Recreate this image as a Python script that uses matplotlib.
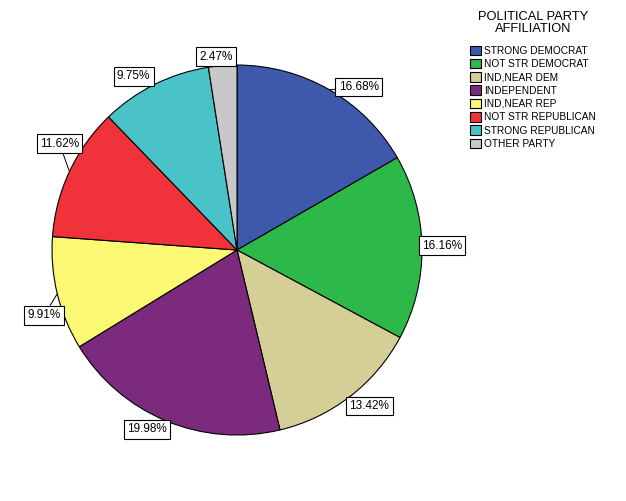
import matplotlib.pyplot as plt
import numpy as np

plt.rcParams['font.family'] = ['Liberation Sans', 'DejaVu Sans']

parties = ['STRONG DEMOCRAT', 'NOT STR DEMOCRAT', 'IND,NEAR DEM', 'INDEPENDENT',
           'IND,NEAR REP', 'NOT STR REPUBLICAN', 'STRONG REPUBLICAN', 'OTHER PARTY']
percents = [16.68, 16.16, 13.42, 19.98, 9.91, 11.62, 9.75, 2.47]
colors = ['#3E58AC', '#2DB84A', '#D4CE97', '#7B2A7E',
          '#FBF873', '#F0333B', '#4AC3C8', '#C8C8C8']

# where each percent box sits, in pixels from the slice's outer mid point
label_offsets = [(29, 3), (20, 1.5), (19.5, -9.5), (-19, -8.5),
                 (-13, -21.5), (-10, 28), (-21, 8), (-7, 9)]

fig = plt.figure(figsize=(6.26, 5.01), dpi=100)
ax = fig.add_axes([0.0831, 0.1317, 0.591, 0.7385])

wedges, _ = ax.pie(percents, colors=colors, startangle=90, counterclock=False,
                   radius=1.0, wedgeprops=dict(edgecolor='black', linewidth=0.8))
ax.set_xlim(-1, 1)
ax.set_ylim(-1, 1)
ax.set_aspect('equal')
ax.axis('off')

for w, p, off in zip(wedges, percents, label_offsets):
    ang = np.deg2rad((w.theta1 + w.theta2) / 2)
    ex, ey = np.cos(ang), np.sin(ang)
    ax.annotate('%.2f%%' % p, xy=(ex, ey), xytext=off, textcoords='offset pixels',
                ha='center', va='center', fontsize=8.5,
                bbox=dict(boxstyle='square,pad=0.28', fc='white', ec='black', lw=0.8),
                arrowprops=dict(arrowstyle='-', lw=0.7, color='black',
                                shrinkA=0, shrinkB=0),
                annotation_clip=False)

fig.text(533 / 626, 1 - 11 / 501, 'POLITICAL PARTY\nAFFILIATION', ha='center',
         va='top', multialignment='center', fontsize=9.3, linespacing=1.0)

handles = [plt.Rectangle((0, 0), 1, 1, fc=c, ec='black', lw=0.8) for c in colors]
fig.legend(handles, parties, loc='upper left', bbox_to_anchor=(470 / 626, 1 - 45.5 / 501),
           frameon=False, fontsize=7.3, handlelength=1.08, handleheight=1.08,
           handletextpad=0.3, labelspacing=0.3, borderaxespad=0, borderpad=0)

fig.savefig('out.png', dpi=100)
